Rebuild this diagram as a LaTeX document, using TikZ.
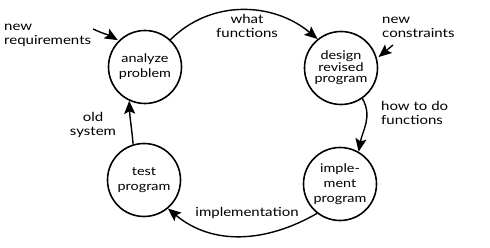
\documentclass[tikz,border=0pt]{standalone}
\usepackage{fontspec}
\setmainfont{Lato}[FakeStretch=1.2]
\usetikzlibrary{arrows.meta}
\begin{document}
\begin{tikzpicture}[x=1pt,y=1pt,
  stage/.style={circle, draw, line width=1.6pt, minimum size=73pt, inner sep=0pt,
    align=center, font=\fontsize{12}{15}\selectfont},
  flow/.style={line width=1.4pt, -{Stealth[length=13pt,width=11pt,inset=2.5pt]}},
  lbl/.style={inner sep=0pt, font=\fontsize{12.5}{14}\selectfont}]
\useasboundingbox (0,0) rectangle (490,248);

% the four stages of the cycle
\node[stage] (A) at (145,181) {analyze\\problem};
\node[stage, font=\fontsize{12}{11.5}\selectfont] (D) at (341,180) {design\\revised\\program};
\node[stage] (I) at (340,64) {imple-\\ment\\program};
\node[stage] (T) at (144,68) {test\\program};

% outside inputs
\coordinate (nr) at (93,219);
\coordinate (nc) at (393,203);
\node[lbl, anchor=west, align=left] (nrl) at (4,213) {new\\requirements};
\node[lbl, anchor=west, align=left] (ncl) at (382,221) {new\\constraints};
\draw[flow, shorten >=1pt] (nr) to[out=-25,in=150] (A.135);
\draw[flow, shorten >=2pt] (nc) -- (D.15);

% cycle connectors
\draw[flow] (A.47) to[out=45,in=140] (D.129);
\draw[flow] (D.-55) to[out=-60,in=80] (I.60);
\draw[flow] (I.-128) to[out=210,in=-40] (T.-50);
\draw[flow] (T.107) to[out=95,in=-88] (A.-115);

% connector labels
\node[lbl, align=center] (wf) at (247,222) {what\\functions};
\node[lbl, anchor=west, align=left] (hf) at (381,135) {how to do\\functions};
\node[lbl] (im) at (247,35) {implementation};
\node[lbl, align=center] (os) at (93,123) {old\\system};
\end{tikzpicture}
\end{document}
